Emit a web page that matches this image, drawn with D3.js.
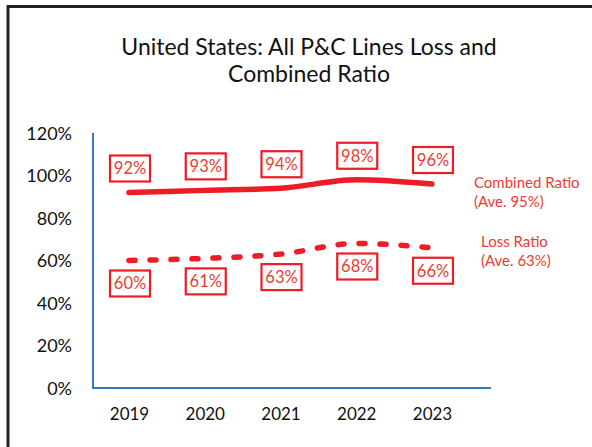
<!DOCTYPE html>
<html>
<head>
<meta charset="utf-8">
<script src="https://cdn.jsdelivr.net/npm/d3@7"></script>
<style>
  body { margin: 0; background: #fff; }
  text { font-family: Lato, "Open Sans", sans-serif; }
</style>
</head>
<body>
<script>
const width = 592,
      height = 447;

const years = ["2019", "2020", "2021", "2022", "2023"];
const combinedRatio = [0.92, 0.93, 0.94, 0.98, 0.96];
const lossRatio = [0.60, 0.61, 0.63, 0.68, 0.66];
const yTicks = [0, 0.2, 0.4, 0.6, 0.8, 1.0, 1.2];
const titleLines = ["United States: All P&C Lines Loss and", "Combined Ratio"];
const combinedLegend = ["Combined Ratio", "(Ave. 95%)"];
const lossLegend = ["Loss Ratio", "(Ave. 63%)"];

const red = "#ee1c25",
      labelRed = "#ea3d33";

let svg = d3.select("body")
    .append("svg")
    .attr("width", width)
    .attr("height", height);

// frame, cropped on the right and bottom
svg.append("path")
    .attr("d", "M8,447 V6.5 H592")
    .attr("fill", "none")
    .attr("stroke", "#222")
    .attr("stroke-width", 3);

svg.selectAll(".title")
    .data(titleLines)
    .enter().append("text")
    .attr("class", "title")
    .attr("x", 309)
    .attr("y", function(d, i) {return 55 + i * 27;})
    .attr("text-anchor", "middle")
    .style("font-size", "23px")
    .style("fill", "#111")
    .text(function(d) {return d;});

let x = d3.scalePoint().domain(years).range([129, 432]);
let y = d3.scaleLinear().domain([0, 1.2]).range([388, 133]);

let yAxis = d3.axisLeft(y)
    .tickValues(yTicks)
    .tickSize(0)
    .tickPadding(0)
    .tickFormat(d3.format(".0%"));

let gy = svg.append("g")
    .attr("class", "y axis")
    .attr("transform", "translate(72,0)")
    .call(yAxis);
gy.select(".domain").remove();
gy.selectAll("text")
    .attr("dy", "0.35em")
    .style("font-family", "Lato, sans-serif")
    .style("font-size", "18px")
    .style("fill", "#111");

let xAxis = d3.axisBottom(x).tickSize(0).tickPadding(0);
let gx = svg.append("g")
    .attr("class", "x axis")
    .attr("transform", "translate(0,408)")
    .call(xAxis);
gx.select(".domain").remove();
gx.selectAll("text")
    .attr("dy", "0.7em")
    .style("font-family", "Lato, sans-serif")
    .style("font-size", "17px")
    .style("fill", "#111");

// axis lines
svg.append("path")
    .attr("d", "M93," + y(1.2) + " V" + y(0) + " H491")
    .attr("fill", "none")
    .attr("stroke", "#2f7bc4")
    .attr("stroke-width", 2);

let line = d3.line()
    .x(function(d, i) {return x(years[i]);})
    .y(function(d) {return y(d);})
    .curve(d3.curveMonotoneX);

svg.append("path")
    .attr("d", line(combinedRatio))
    .attr("fill", "none")
    .attr("stroke", red)
    .attr("stroke-width", 5.5)
    .attr("stroke-linecap", "round");

svg.append("path")
    .attr("d", line(lossRatio))
    .attr("fill", "none")
    .attr("stroke", red)
    .attr("stroke-width", 5.5)
    .attr("stroke-linecap", "round")
    .attr("stroke-dasharray", "6,15");

function addLabels(values, offset) {
    let g = svg.append("g");
    let lab = g.selectAll("g")
        .data(values)
        .enter().append("g")
        .attr("transform", function(d, i) {
            return "translate(" + (x(years[i]) + 1) + "," + (y(d) + offset) + ")";
        });
    lab.append("rect")
        .attr("x", -20)
        .attr("y", -13)
        .attr("width", 40)
        .attr("height", 26)
        .attr("fill", "#fff")
        .attr("stroke", red)
        .attr("stroke-width", 2.2);
    lab.append("text")
        .attr("text-anchor", "middle")
        .attr("dy", "0.36em")
        .style("font-size", "16.5px")
        .style("fill", labelRed)
        .text(function(d) {return d3.format(".0%")(d);});
}
addLabels(combinedRatio, -24);
addLabels(lossRatio, 23);

function addLegend(lines, lx, ly) {
    svg.append("g").selectAll("text")
        .data(lines)
        .enter().append("text")
        .attr("x", lx)
        .attr("y", function(d, i) {return ly + i * 19;})
        .style("font-size", "15px")
        .style("fill", labelRed)
        .text(function(d) {return d;});
}
addLegend(combinedLegend, 474, 188);
addLegend(lossLegend, 481, 247);
</script>
</body>
</html>
